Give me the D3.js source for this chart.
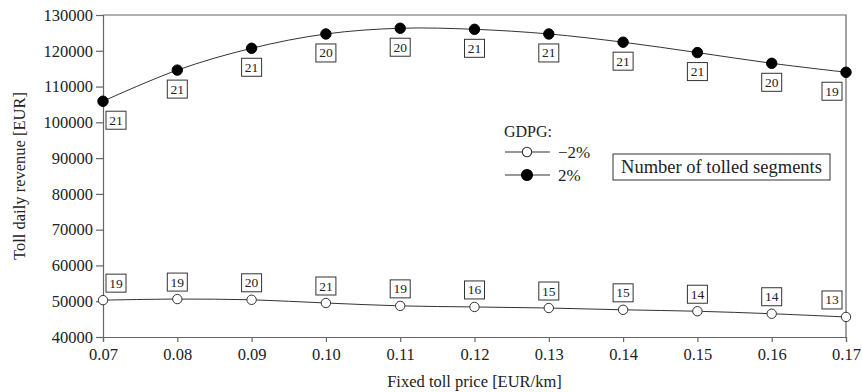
<!DOCTYPE html>
<html>
<head>
<meta charset="utf-8">
<script src="https://cdn.jsdelivr.net/npm/d3@7"></script>
<style>
  body { margin: 0; background: #fff; }
  svg text { font-family: "Liberation Serif", "DejaVu Serif", serif; fill: #222; }
</style>
</head>
<body>
<div id="chart"></div>
<script>
// toll price (EUR/km)
const prices = [0.07, 0.08, 0.09, 0.10, 0.11, 0.12, 0.13, 0.14, 0.15, 0.16, 0.17];
const xTickLabels = ["0.07", "0.08", "0.09", "0.10", "0.11", "0.12", "0.13", "0.14", "0.15", "0.16", "0.17"];
const yTicks = [40000, 50000, 60000, 70000, 80000, 90000, 100000, 110000, 120000, 130000];

// GDPG = 2%
const revenueUp = [105900, 114600, 120700, 124700, 126300, 126000, 124700, 122400, 119500, 116500, 114000];
const segmentsUp = [21, 21, 21, 20, 20, 21, 21, 21, 21, 20, 19];

// GDPG = -2%
const revenueDown = [50300, 50600, 50400, 49500, 48700, 48400, 48100, 47600, 47200, 46500, 45600];
const segmentsDown = [19, 19, 20, 21, 19, 16, 15, 15, 14, 14, 13];

const margin = { top: 15, right: 16, bottom: 55, left: 103 };
const outerWidth = 862;
const outerHeight = 392;
const width = outerWidth - margin.left - margin.right;
const height = outerHeight - margin.top - margin.bottom;

const svg = d3.select("#chart")
  .append("svg")
  .attr("width", outerWidth)
  .attr("height", outerHeight);

const g = svg.append("g")
  .attr("transform", `translate(${margin.left},${margin.top})`);

const x = d3.scaleLinear().domain([0.07, 0.17]).range([0, width]);
const y = d3.scaleLinear().domain([40000, 130000]).range([height, 0]);

// frame (top + right)
g.append("path")
  .attr("d", `M0,0H${width}V${height}`)
  .attr("fill", "none")
  .attr("stroke", "#666")
  .attr("stroke-width", 1.2);

const xAxisG = g.append("g")
  .attr("transform", `translate(0,${height})`)
  .call(d3.axisBottom(x).tickValues(prices).tickFormat((d, i) => xTickLabels[i]).tickSizeOuter(0).tickSize(5).tickPadding(6));

const yAxisG = g.append("g")
  .call(d3.axisLeft(y).tickValues(yTicks).tickFormat(d3.format("d")).tickSizeOuter(0).tickSize(7).tickPadding(3));

[xAxisG, yAxisG].forEach(a => {
  a.attr("font-family", null);
  a.selectAll("path, line").attr("stroke", "#666").attr("stroke-width", 1.2);
  a.selectAll("text").attr("font-size", 16.5).attr("fill", "#222");
});

// axis titles
svg.append("text")
  .attr("x", margin.left + width / 2)
  .attr("y", 387)
  .attr("text-anchor", "middle")
  .attr("font-size", 16.5)
  .text("Fixed toll price [EUR/km]");

svg.append("text")
  .attr("transform", `translate(25,${margin.top + height / 2}) rotate(-90)`)
  .attr("text-anchor", "middle")
  .attr("font-size", 16.5)
  .text("Toll daily revenue [EUR]");

const line = d3.line()
  .x(d => x(d.p))
  .y(d => y(d.v))
  .curve(d3.curveCatmullRom.alpha(0.5));

const series = [
  { key: "down", values: revenueDown, segs: segmentsDown, filled: false, dy: -17 },
  { key: "up", values: revenueUp, segs: segmentsUp, filled: true, dy: 19 }
];

series.forEach(s => {
  const pts = prices.map((p, i) => ({ p, v: s.values[i], n: s.segs[i], i }));

  g.append("path")
    .datum(pts)
    .attr("d", line)
    .attr("fill", "none")
    .attr("stroke", "#333")
    .attr("stroke-width", 1);

  g.selectAll(`circle.${s.key}`)
    .data(pts)
    .join("circle")
    .attr("class", s.key)
    .attr("cx", d => x(d.p))
    .attr("cy", d => y(d.v))
    .attr("r", s.filled ? 5.2 : 4.7)
    .attr("fill", s.filled ? "#000" : "#fff")
    .attr("stroke", s.filled ? "#000" : "#333")
    .attr("stroke-width", 1);

  // segment count boxes
  const lab = g.selectAll(`g.lab-${s.key}`)
    .data(pts)
    .join("g")
    .attr("class", `lab-${s.key}`)
    .attr("transform", d => {
      const dx = d.i === 0 ? 13 : (d.i === pts.length - 1 ? -14 : 0);
      return `translate(${x(d.p) + dx},${y(d.v) + s.dy})`;
    });

  lab.append("rect")
    .attr("x", -10)
    .attr("y", -9)
    .attr("width", 20)
    .attr("height", 18)
    .attr("fill", "#fff")
    .attr("stroke", "#333")
    .attr("stroke-width", 1);

  lab.append("text")
    .attr("text-anchor", "middle")
    .attr("y", 4.5)
    .attr("font-size", 13.5)
    .text(d => d.n);
});

// legend
const legend = svg.append("g");
legend.append("text")
  .attr("x", 504)
  .attr("y", 137)
  .attr("font-size", 16)
  .text("GDPG:");

const legendItems = [
  { label: "\u22122%", filled: false, y: 152 },
  { label: "2%", filled: true, y: 175 }
];
legendItems.forEach(it => {
  legend.append("line")
    .attr("x1", 505).attr("x2", 550)
    .attr("y1", it.y).attr("y2", it.y)
    .attr("stroke", "#333").attr("stroke-width", 1.1);
  legend.append("circle")
    .attr("cx", 527).attr("cy", it.y)
    .attr("r", it.filled ? 5.5 : 4.7)
    .attr("fill", it.filled ? "#000" : "#fff")
    .attr("stroke", it.filled ? "#000" : "#333")
    .attr("stroke-width", 1.1);
  legend.append("text")
    .attr("x", 558)
    .attr("y", it.y + 5.5)
    .attr("font-size", 17)
    .text(it.label);
});

const boxG = svg.append("g").attr("transform", "translate(613,154)");
boxG.append("rect")
  .attr("width", 217)
  .attr("height", 26)
  .attr("fill", "#fff")
  .attr("stroke", "#333")
  .attr("stroke-width", 1);
boxG.append("text")
  .attr("x", 108.5)
  .attr("y", 18.5)
  .attr("text-anchor", "middle")
  .attr("font-size", 18.5)
  .text("Number of tolled segments");
</script>
</body>
</html>
